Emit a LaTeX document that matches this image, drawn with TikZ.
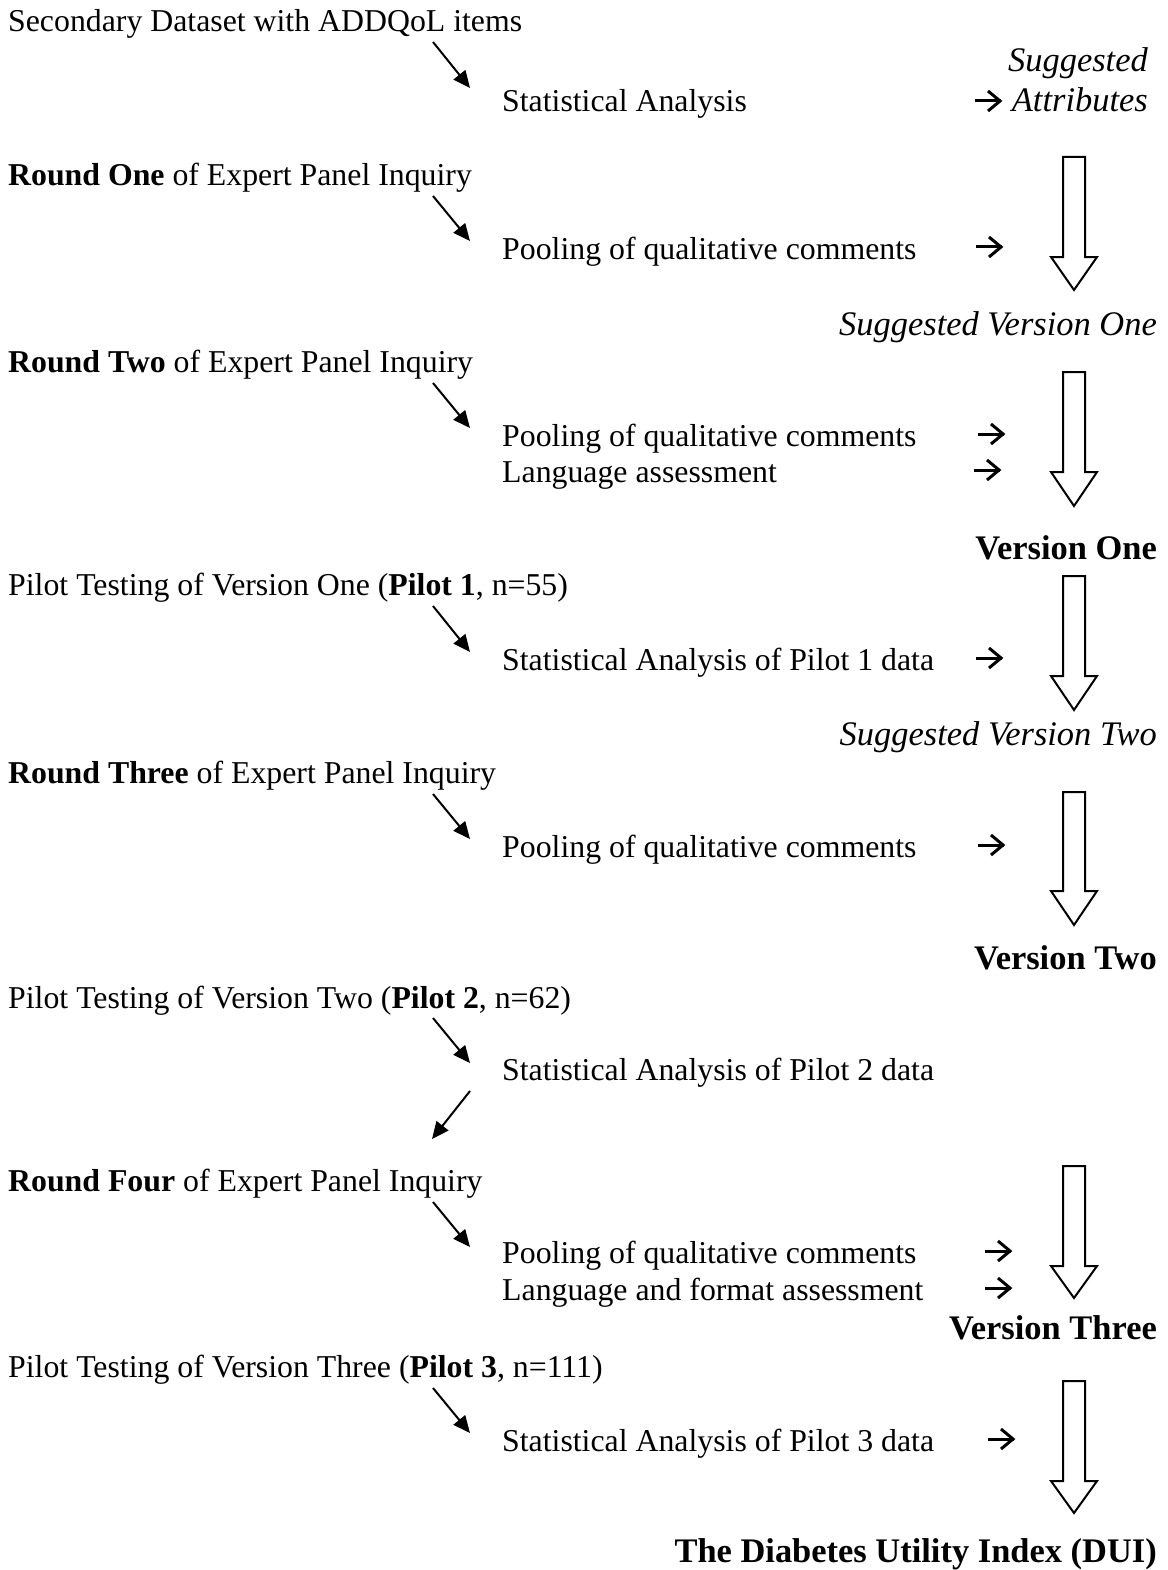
\documentclass[tikz,border=0pt]{standalone}
\usepackage{fontspec}
\setmainfont{Liberation Serif}
\usetikzlibrary{arrows.meta}
\begin{document}
\begin{tikzpicture}[x=1pt,y=-1pt,
  txt/.style={inner sep=0pt, font=\fontsize{31.8}{38}\selectfont},
  lefttxt/.style={txt, anchor=base west},
  midtxt/.style={txt, anchor=base west},
  outtxt/.style={inner sep=0pt, anchor=base east, font=\fontsize{34.45}{41}\selectfont},
  diag/.style={line width=2pt, -{Triangle[length=17pt,width=15pt]}},
  chev/.style={line width=3pt, line cap=butt, line join=miter}
]
\useasboundingbox (0,0) rectangle (1167,1570);

% small chevron arrow glyph
\newcommand{\chevarrow}[2]{%
  \draw[chev] (#1,#2) -- ++(26,0);
  \draw[chev] (#1+13,#2-10) -- (#1+25,#2) -- (#1+13,#2+10);}
% hollow block arrow pointing down: top y, head base y, tip y
\newcommand{\blockarrow}[3]{%
  \draw[line width=2pt, line join=miter]
    (1063,#1) -- (1085,#1) -- (1085,#2) -- (1097,#2) -- (1074,#3)
    -- (1051,#2) -- (1063,#2) -- cycle;}

% left column: sources of input
\node[lefttxt] (L1) at (8,32) {Secondary Dataset with ADDQoL items};
\node[lefttxt] (L2) at (8,186) {\textbf{Round One} of Expert Panel Inquiry};
\node[lefttxt] (L3) at (8,372) {\textbf{Round Two} of Expert Panel Inquiry};
\node[lefttxt] (L4) at (8,595) {Pilot Testing of Version One (\textbf{Pilot 1}, n=55)};
\node[lefttxt] (L5) at (8,783) {\textbf{Round Three} of Expert Panel Inquiry};
\node[lefttxt] (L6) at (8,1008) {Pilot Testing of Version Two (\textbf{Pilot 2}, n=62)};
\node[lefttxt] (L7) at (8,1191) {\textbf{Round Four} of Expert Panel Inquiry};
\node[lefttxt] (L8) at (8,1377) {Pilot Testing of Version Three (\textbf{Pilot 3}, n=111)};

% middle column: processing steps
\node[midtxt] (M1) at (502,112) {Statistical Analysis};
\node[midtxt] (M2) at (502,259) {Pooling of qualitative comments};
\node[midtxt] (M3) at (502,446) {Pooling of qualitative comments};
\node[midtxt] (M3b) at (502,482) {Language assessment};
\node[midtxt] (M4) at (502,670) {Statistical Analysis of Pilot 1 data};
\node[midtxt] (M5) at (502,857) {Pooling of qualitative comments};
\node[midtxt] (M6) at (502,1080) {Statistical Analysis of Pilot 2 data};
\node[midtxt] (M7) at (502,1263) {Pooling of qualitative comments};
\node[midtxt] (M7b) at (502,1300) {Language and format assessment};
\node[midtxt] (M8) at (502,1451) {Statistical Analysis of Pilot 3 data};

% right column: outcomes
\node[outtxt] (R1a) at (1148,72) {\itshape Suggested};
\node[outtxt] (R1) at (1148,112) {\itshape Attributes};
\node[outtxt] (R2) at (1157,335) {\itshape Suggested Version One};
\node[outtxt] (R3) at (1157,559) {\bfseries Version One};
\node[outtxt] (R4) at (1157,745) {\itshape Suggested Version Two};
\node[outtxt] (R5) at (1157,969) {\bfseries Version Two};
\node[outtxt] (R6) at (1157,1339) {\bfseries Version Three};
\node[outtxt] (R7) at (1157,1562) {\bfseries The Diabetes Utility Index (DUI)};

% diagonal arrow end points
\coordinate (d1s) at (433,42);   \coordinate (d1e) at (470,88);
\coordinate (d2s) at (433,196);  \coordinate (d2e) at (470,241);
\coordinate (d3s) at (433,383);  \coordinate (d3e) at (470,428);
\coordinate (d4s) at (433,606);  \coordinate (d4e) at (470,652);
\coordinate (d5s) at (433,794);  \coordinate (d5e) at (470,839);
\coordinate (d6s) at (433,1018); \coordinate (d6e) at (470,1063);
\coordinate (d7s) at (470,1091); \coordinate (d7e) at (432,1139);
\coordinate (d8s) at (433,1202); \coordinate (d8e) at (470,1247);
\coordinate (d9s) at (433,1388); \coordinate (d9e) at (470,1433);

\draw[diag] (d1s) -- (d1e);
\draw[diag] (d2s) -- (d2e);
\draw[diag] (d3s) -- (d3e);
\draw[diag] (d4s) -- (d4e);
\draw[diag] (d5s) -- (d5e);
\draw[diag] (d6s) -- (d6e);
\draw[diag] (d7s) -- (d7e);
\draw[diag] (d8s) -- (d8e);
\draw[diag] (d9s) -- (d9e);

% small arrows into the outcomes
\chevarrow{975}{101}
\chevarrow{976}{247}
\chevarrow{978}{434}
\chevarrow{974}{470}
\chevarrow{976}{658}
\chevarrow{978}{845}
\chevarrow{985}{1251}
\chevarrow{985}{1288}
\chevarrow{988}{1439}

% block arrows
\blockarrow{157}{257}{290}
\blockarrow{372}{472}{506}
\blockarrow{576}{676}{710}
\blockarrow{792}{891}{925}
\blockarrow{1166}{1266}{1298}
\blockarrow{1381}{1481}{1513}
\end{tikzpicture}
\end{document}
